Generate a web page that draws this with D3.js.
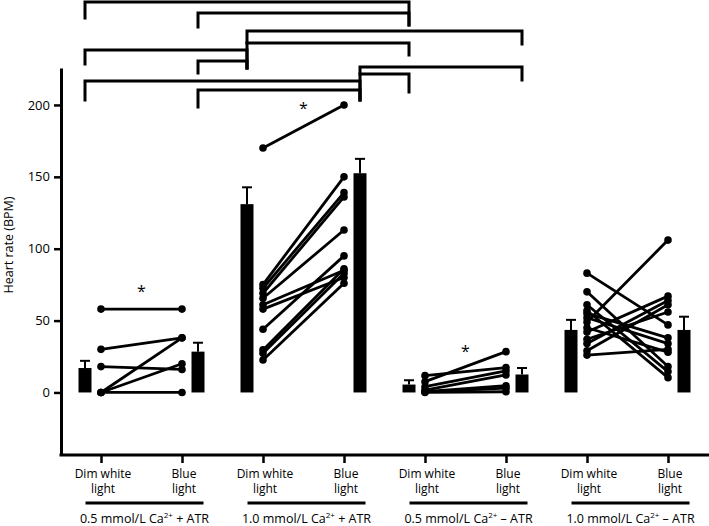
<!DOCTYPE html>
<html>
<head>
<meta charset="utf-8">
<script src="https://cdn.jsdelivr.net/npm/d3@7"></script>
<style>
  html, body { margin: 0; padding: 0; background: #fff; }
  svg { display: block; }
  text { font-family: "Open Sans", "Noto Sans", sans-serif; fill: #000; }
</style>
</head>
<body>
<svg id="chart" width="709" height="526"></svg>
<script>
// ---------------- data ----------------
const conditionLines = [["Dim white", "light"], ["Blue", "light"]];
const concentrations = ["0.5", "1.0", "0.5", "1.0"];
const atrSigns = ["+", "+", "\u2013", "\u2013"];
const yTicks = [0, 50, 100, 150, 200];

const dimMean = [17, 131, 5.5, 43.5];
const dimSE = [5, 11.7, 3, 7];
const blueMean = [28.4, 152.5, 12.5, 43.5];
const blueSE = [6.2, 10, 4.5, 9.2];

// paired observations [dim white, blue] per group
const pairsG1 = [[58, 58], [30, 38], [18, 16], [0, 38], [0, 20], [0, 0]];
const pairsG2 = [[170, 200], [75, 150], [72.5, 139], [69, 136], [65.5, 113], [61, 85],
                 [58, 80], [44, 95], [29.6, 86], [27.3, 83], [22.6, 76]];
const pairsG3 = [[11.7, 17.3], [7.5, 28.4], [4, 15], [1.7, 12.2], [0.5, 4.7], [0.5, 3], [0, 0.5]];
const pairsG4 = [[83, 47], [70, 18], [61, 14.5], [57, 10.3], [55, 38], [52, 34], [49, 106],
                 [45, 28], [42, 67], [37, 56], [34, 64], [29, 61], [26, 30]];

// significance stars (group index, y value)
const starGroups = [0, 1, 2];
const starValues = [73, 200, 31];

// bracket comparisons between bars (bar index 0..7)
const comparisons = [[0, 4], [1, 4], [2, 5], [2, 4], [0, 2], [1, 2], [3, 5], [3, 4], [0, 3], [1, 3]];

// ---------------- layout ----------------
const W = 709, H = 526;
const plotLeft = 61, plotTop = 68, plotBottom = 455;
const barOffset = 16, barWidth = 13;
const bracketLevels = [2, 13, 31, 43, 50, 61, 67, 74, 81, 90];
const bracketLegA = [18, 27, 68, 43, 64, 73, 100, 74, 100, 107];
const bracketLegB = [25, 25, 44, 55, 68, 68, 80, 92, 100, 100];

const svg = d3.select("#chart");
const x = d3.scalePoint().domain(d3.range(8)).range([101, 668]);
const y = d3.scaleLinear().domain([-43.5, 225.7]).range([plotBottom, plotTop]);

const allPairs = [pairsG1, pairsG2, pairsG3, pairsG4];
const barCenter = i => x(i) + (i % 2 === 0 ? -barOffset : barOffset);

// ---------------- axes / frame ----------------
const yAxis = d3.axisLeft(y).tickValues(yTicks).tickSize(7).tickPadding(4).tickSizeOuter(0);
const gy = svg.append("g").attr("transform", `translate(${plotLeft},0)`).call(yAxis);
gy.select(".domain").attr("stroke", "#000").attr("stroke-width", 3);
gy.selectAll(".tick line").attr("stroke", "#000").attr("stroke-width", 2.5);
gy.selectAll(".tick text").style("font-size", "13px").attr("fill", "#000").style("fill", "#000");

// bottom frame line
svg.append("line")
  .attr("x1", plotLeft - 1.5).attr("x2", W)
  .attr("y1", plotBottom).attr("y2", plotBottom)
  .attr("stroke", "#000").attr("stroke-width", 3);

const xAxis = d3.axisBottom(x).tickSize(8).tickFormat("").tickSizeOuter(0);
const gx = svg.append("g").attr("transform", `translate(0,${plotBottom})`).call(xAxis);
gx.select(".domain").remove();
gx.selectAll(".tick line").attr("stroke", "#000").attr("stroke-width", 2.5);

// condition labels
x.domain().forEach(i => {
  const lines = conditionLines[i % 2];
  const t = svg.append("text")
    .attr("text-anchor", "middle")
    .style("font-size", "12px").style("fill", "#000");
  lines.forEach((ln, k) => {
    t.append("tspan").attr("x", x(i) + 2).attr("y", 477.5 + k * 15.5).text(ln);
  });
});

// group underline + labels
concentrations.forEach((c, g) => {
  const cx = (x(2 * g) + x(2 * g + 1)) / 2 + 3;
  svg.append("line")
    .attr("x1", cx - 59).attr("x2", cx + 59)
    .attr("y1", 503).attr("y2", 503)
    .attr("stroke", "#000").attr("stroke-width", 3);
  const t = svg.append("text").attr("x", cx).attr("y", 522.5)
    .attr("text-anchor", "middle").style("font-size", "12.5px").style("fill", "#000");
  t.append("tspan").text(`${c} mmol/L Ca`);
  t.append("tspan").attr("dy", -4.5).style("font-size", "8px").text("2+");
  t.append("tspan").attr("dy", 4.5).text(` ${atrSigns[g]} ATR`);
});

// y label
svg.append("text")
  .attr("transform", `translate(13,245) rotate(-90)`)
  .attr("text-anchor", "middle")
  .style("font-size", "12.5px").style("fill", "#000")
  .text("Heart rate (BPM)");

// ---------------- bars ----------------
const barData = [];
dimMean.forEach((m, g) => {
  barData.push({ idx: 2 * g, mean: m, se: dimSE[g] });
  barData.push({ idx: 2 * g + 1, mean: blueMean[g], se: blueSE[g] });
});

svg.append("g").selectAll("rect").data(barData).join("rect")
  .attr("x", d => barCenter(d.idx) - barWidth / 2)
  .attr("width", barWidth)
  .attr("y", d => y(d.mean))
  .attr("height", d => y(0) - y(d.mean))
  .attr("fill", "#000");

const eb = svg.append("g").attr("stroke", "#000").attr("stroke-width", 2);
eb.selectAll("line.v").data(barData).join("line").attr("class", "v")
  .attr("x1", d => barCenter(d.idx)).attr("x2", d => barCenter(d.idx))
  .attr("y1", d => y(d.mean)).attr("y2", d => y(d.mean + d.se));
eb.selectAll("line.c").data(barData).join("line").attr("class", "c")
  .attr("x1", d => barCenter(d.idx) - 5).attr("x2", d => barCenter(d.idx) + 5)
  .attr("y1", d => y(d.mean + d.se)).attr("y2", d => y(d.mean + d.se));

// ---------------- paired lines ----------------
allPairs.forEach((pairs, g) => {
  const gg = svg.append("g");
  gg.selectAll("line").data(pairs).join("line")
    .attr("x1", x(2 * g)).attr("x2", x(2 * g + 1))
    .attr("y1", d => y(d[0])).attr("y2", d => y(d[1]))
    .attr("stroke", "#000").attr("stroke-width", 2.8);
  const pts = [];
  pairs.forEach(p => { pts.push([2 * g, p[0]]); pts.push([2 * g + 1, p[1]]); });
  gg.selectAll("circle").data(pts).join("circle")
    .attr("cx", d => x(d[0])).attr("cy", d => y(d[1])).attr("r", 3.8)
    .attr("fill", "#000");
});

// ---------------- stars ----------------
starGroups.forEach((g, k) => {
  svg.append("text")
    .attr("x", (x(2 * g) + x(2 * g + 1)) / 2)
    .attr("y", y(starValues[k]) + 9)
    .attr("text-anchor", "middle")
    .style("font-size", "16px").style("fill", "#000")
    .text("*");
});

// ---------------- brackets ----------------
const br = svg.append("g").attr("fill", "none").attr("stroke", "#000").attr("stroke-width", 3)
  .attr("stroke-linejoin", "miter").attr("stroke-linecap", "square");
comparisons.forEach((c, k) => {
  const xa = barCenter(c[0]), xb = barCenter(c[1]);
  const lv = bracketLevels[k];
  br.append("path")
    .attr("d", `M${xa},${bracketLegA[k]}V${lv}H${xb}V${bracketLegB[k]}`);
});
</script>
</body>
</html>
